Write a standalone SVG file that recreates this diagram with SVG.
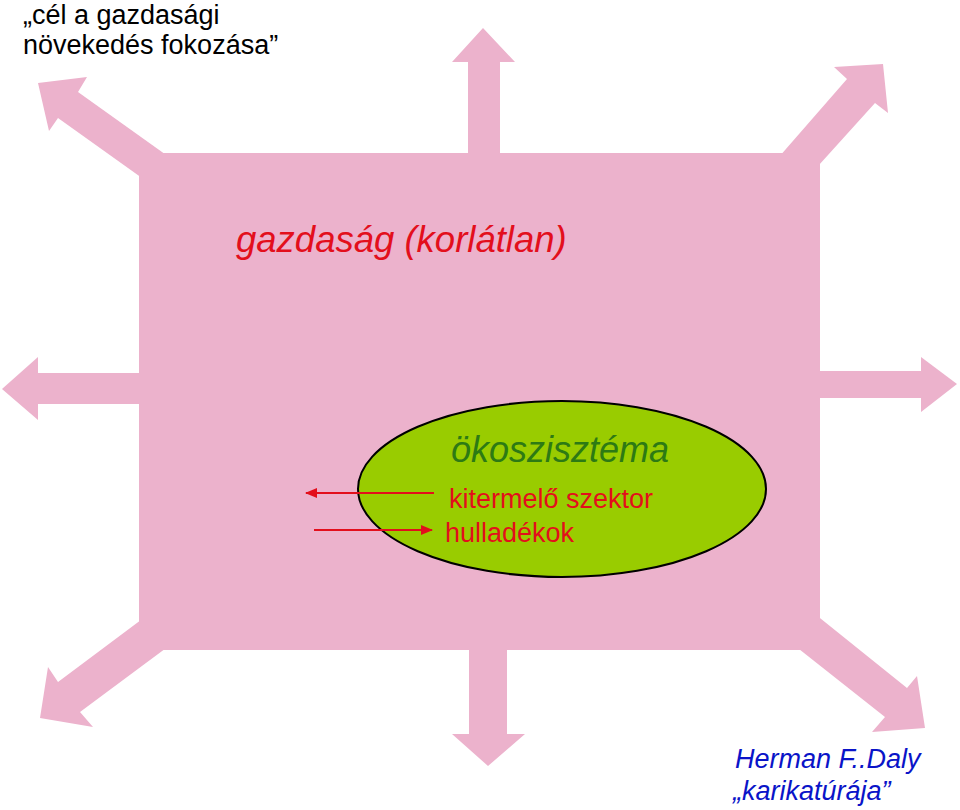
<svg xmlns="http://www.w3.org/2000/svg" width="960" height="810" viewBox="0 0 960 810">
<style>
.pink{fill:#ecb2cc;stroke:none}
.sans{font-family:"Liberation Sans",Arial,sans-serif}
.red{fill:#e30f1c}
.flow{stroke:#e30f1c;stroke-width:2;fill:none}
</style>
<defs>
<marker id="ah" markerUnits="userSpaceOnUse" markerWidth="12" markerHeight="10" refX="11" refY="5" orient="auto">
<path d="M0,0 L12,5 L0,10 Z" fill="#e30f1c"/>
</marker>
</defs>
<rect width="960" height="810" fill="#ffffff"/>
<g id="growth-arrows">
<polygon class="pink" points="38,83 87,77 78,92 190,172 170,198 58,118 49,131"/>
<polygon class="pink" points="483,28 515,62 500,62 500,170 468,170 468,62 452,62"/>
<polygon class="pink" points="883,64 888,113 875,103 800,186 765,173 847,79 834,67"/>
<polygon class="pink" points="2,389 38,357 38,373 160,373 160,404 38,404 38,420"/>
<polygon class="pink" points="957,384 921,357 921,371 800,371 800,398 921,398 921,412"/>
<polygon class="pink" points="40,718 48,667 58,682 165,602 185,634 80,712 93,727"/>
<polygon class="pink" points="488,766 525,734 507,734 507,630 469,630 469,734 452,734"/>
<polygon class="pink" points="925,728 917,676 907,688 800,602 780,634 885,717 872,732"/>
</g>
<g id="economy">
<rect class="pink" x="139" y="153" width="681" height="497"/>
<text class="sans red" x="236" y="252" font-size="36.5" font-style="italic">gazdaság (korlátlan)</text>
</g>
<g id="ecosystem">
<ellipse cx="562" cy="489" rx="204" ry="88" fill="#99cc00" stroke="#000000" stroke-width="2"/>
<text class="sans" x="451" y="462" font-size="36" font-style="italic" fill="#2d7a14">ökoszisztéma</text>
<text class="sans red" x="449" y="508" font-size="27">kitermelő szektor</text>
<text class="sans red" x="445" y="542" font-size="27">hulladékok</text>
</g>
<g id="connectors">
<line class="flow" x1="434" y1="493" x2="306" y2="493" marker-end="url(#ah)"/>
<line class="flow" x1="314" y1="530" x2="432" y2="530" marker-end="url(#ah)"/>
</g>
<g id="goal-label">
<text class="sans" x="23" y="24" font-size="27" fill="#000000">„cél a gazdasági</text>
<text class="sans" x="23" y="54" font-size="27" fill="#000000">növekedés fokozása”</text>
</g>
<g id="credit">
<text class="sans" x="735" y="768" font-size="27" font-style="italic" fill="#0a14c8">Herman F..Daly</text>
<text class="sans" x="733" y="800" font-size="27" font-style="italic" fill="#0a14c8">„karikatúrája”</text>
</g>
</svg>
